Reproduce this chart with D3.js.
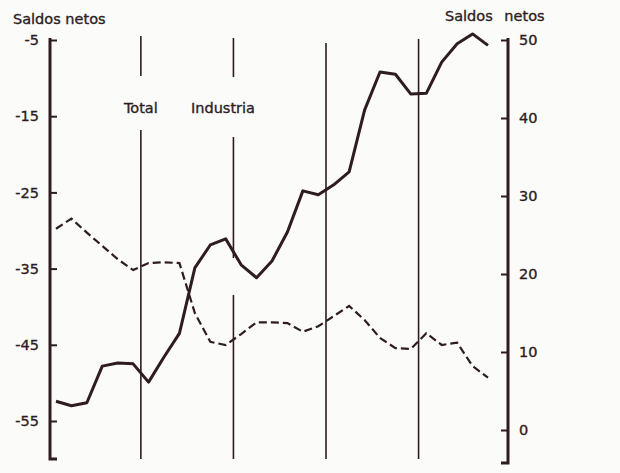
<!DOCTYPE html>
<html><head><meta charset="utf-8">
<script src="https://cdn.jsdelivr.net/npm/d3@7"></script>
<style>
html,body{margin:0;padding:0;background:#fbfbfa;}
svg{display:block;}
text{font-family:"DejaVu Sans",sans-serif;fill:#2e1c21;stroke:#2e1c21;stroke-width:0.35px;}
</style></head><body>
<svg id="c" width="620" height="473"></svg>
<script>
// Data (bimonthly periods, 5 years)
const totalValues = [-52.4,-53.0,-52.6,-47.8,-47.4,-47.5,-49.9,-46.6,-43.5,-34.9,-31.9,-31.1,-34.5,-36.2,-34.0,-30.2,-24.8,-25.3,-24.0,-22.3,-14.2,-9.2,-9.5,-12.1,-12.0,-7.9,-5.5,-4.2,-5.7];
const industriaValues = [25.8,27.1,25.3,23.6,21.9,20.5,21.4,21.5,21.4,15.0,11.3,10.9,12.3,13.8,13.8,13.7,12.6,13.3,14.6,15.9,14.1,11.8,10.5,10.4,12.4,10.9,11.2,8.2,6.7];
const leftTicks = [-5,-15,-25,-35,-45,-55];
const rightTicks = [50,40,30,20,10,0];
const yearBreaks = [5.5,11.5,17.5,23.5];
const seriesLabels = ["Total","Industria"];
const axisTitle = "Saldos netos";

const ink = "#2e1c21";
const fs = 14.5;
const svg = d3.select("#c");

const x = d3.scaleLinear().domain([0, totalValues.length - 1]).range([56, 488]);
const yL = d3.scaleLinear().domain([-5, -55]).range([40, 421]);
const yR = d3.scaleLinear().domain([50, 0]).range([40, 430]);

const leftX = 50, rightX = 508;

// Year divider lines (with label gaps)
const segs = [
  [[36,76],[130,459]],
  [[38,77],[137,258],[295,459]],
  [[43,459]],
  [[39,459]]
];
yearBreaks.forEach((b,i)=>{
  segs[i].forEach(s=>{
    svg.append("line").attr("x1",x(b)).attr("x2",x(b)).attr("y1",s[0]).attr("y2",s[1])
      .attr("stroke",ink).attr("stroke-width",1.6);
  });
});

// Left axis
const gL = svg.append("g").attr("transform",`translate(${leftX},0)`)
  .call(d3.axisLeft(yL).tickValues(leftTicks).tickFormat(d=>String(d)).tickSize(-7).tickPadding(11));
gL.select(".domain").remove();
gL.selectAll(".tick line").attr("stroke",ink).attr("stroke-width",2);
gL.selectAll(".tick text").attr("font-size",fs).attr("fill",ink).style("font-family","DejaVu Sans");
svg.append("path").attr("d",`M${leftX},38V459H${leftX+7}`).attr("fill","none").attr("stroke",ink).attr("stroke-width",3);

// Right axis
const gR = svg.append("g").attr("transform",`translate(${rightX},0)`)
  .call(d3.axisRight(yR).tickValues(rightTicks).tickFormat(d=>String(d)).tickSize(-7).tickPadding(11));
gR.select(".domain").remove();
gR.selectAll(".tick line").attr("stroke",ink).attr("stroke-width",2);
gR.selectAll(".tick text").attr("font-size",fs).attr("fill",ink).style("font-family","DejaVu Sans");
svg.append("path").attr("d",`M${rightX},38V463H${rightX-7}`).attr("fill","none").attr("stroke",ink).attr("stroke-width",3);

// Axis titles
svg.append("text").attr("x",13).attr("y",24).attr("font-size",fs).text(axisTitle);
svg.append("text").attr("x",445).attr("y",21).attr("font-size",fs).attr("word-spacing",7).text(axisTitle);

// Series labels
svg.append("text").attr("x",x(yearBreaks[0])).attr("y",113).attr("text-anchor","middle").attr("font-size",fs).text(seriesLabels[0]);
svg.append("text").attr("x",191).attr("y",113).attr("font-size",fs).text(seriesLabels[1]);

// Lines
const lineL = d3.line().x((d,i)=>x(i)).y(d=>yL(d));
const lineR = d3.line().x((d,i)=>x(i)).y(d=>yR(d));
svg.append("path").datum(industriaValues).attr("d",lineR).attr("fill","none")
  .attr("stroke",ink).attr("stroke-width",2.2).attr("stroke-dasharray","8,4");
svg.append("path").datum(totalValues).attr("d",lineL).attr("fill","none")
  .attr("stroke",ink).attr("stroke-width",3).attr("stroke-linejoin","round");
</script>
</body></html>
